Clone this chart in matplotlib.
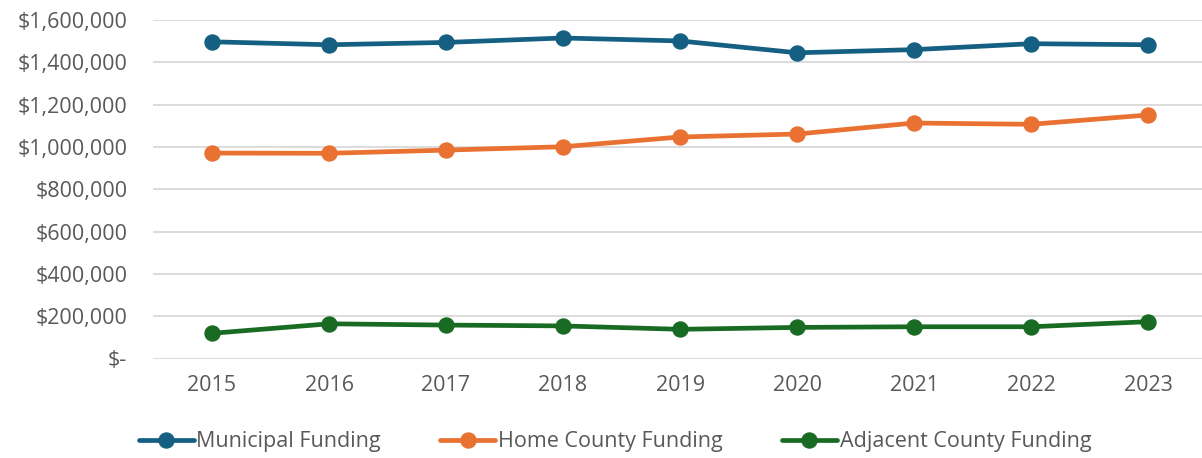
import matplotlib
matplotlib.use("Agg")
import matplotlib.pyplot as plt
from matplotlib.ticker import FuncFormatter

years = ["2015", "2016", "2017", "2018", "2019", "2020", "2021", "2022", "2023"]
municipal = [1497000, 1483000, 1494000, 1515000, 1501000, 1445000, 1460000, 1488000, 1483000]
home_county = [971000, 970000, 985000, 1001000, 1047000, 1061000, 1113000, 1107000, 1151000]
adjacent_county = [119000, 164000, 158000, 154000, 138000, 147000, 150000, 150000, 174000]

series = [
    ("Municipal Funding", municipal, "#156082"),
    ("Home County Funding", home_county, "#E97132"),
    ("Adjacent County Funding", adjacent_county, "#196B24"),
]

plt.rcParams['font.family'] = ['Open Sans', 'DejaVu Sans']
text_color = "#595959"
fs = 15.5

fig = plt.figure(figsize=(12.02, 4.58), dpi=100)
ax = fig.add_axes([153/1202, (458-358.5)/458, (1202-153)/1202, (358.5-20)/458])

x = list(range(len(years)))
for name, vals, col in series:
    ax.plot(x, vals, color=col, lw=3.4, marker="o", ms=10.8, label=name,
            solid_capstyle="round", clip_on=False, zorder=3)

ax.set_ylim(0, 1600000)
ax.set_yticks(range(0, 1600001, 200000))
ax.set_xlim(-0.504, 8.46)
ax.set_xticks(x)
ax.set_xticklabels(years)

def fmt(v, pos):
    if v == 0:
        return "$-"
    return "${:,.0f}".format(v)
ax.yaxis.set_major_formatter(FuncFormatter(fmt))

ax.grid(axis="y", color="#D9D9D9", lw=1.3)
ax.set_axisbelow(True)
for s in ax.spines.values():
    s.set_visible(False)
ax.tick_params(axis="both", length=0, labelsize=fs, colors=text_color)
ax.tick_params(axis="x", pad=12)
ax.tick_params(axis="y", pad=18.5)

leg = fig.legend(loc="center", bbox_to_anchor=(615/1202, (458-442)/458), ncol=3,
                 frameon=False, fontsize=fs, handlelength=2.55, handletextpad=0.13,
                 columnspacing=2.75, borderpad=0, borderaxespad=0)
for t in leg.get_texts():
    t.set_color(text_color)

fig.savefig("out.png", dpi=100)
